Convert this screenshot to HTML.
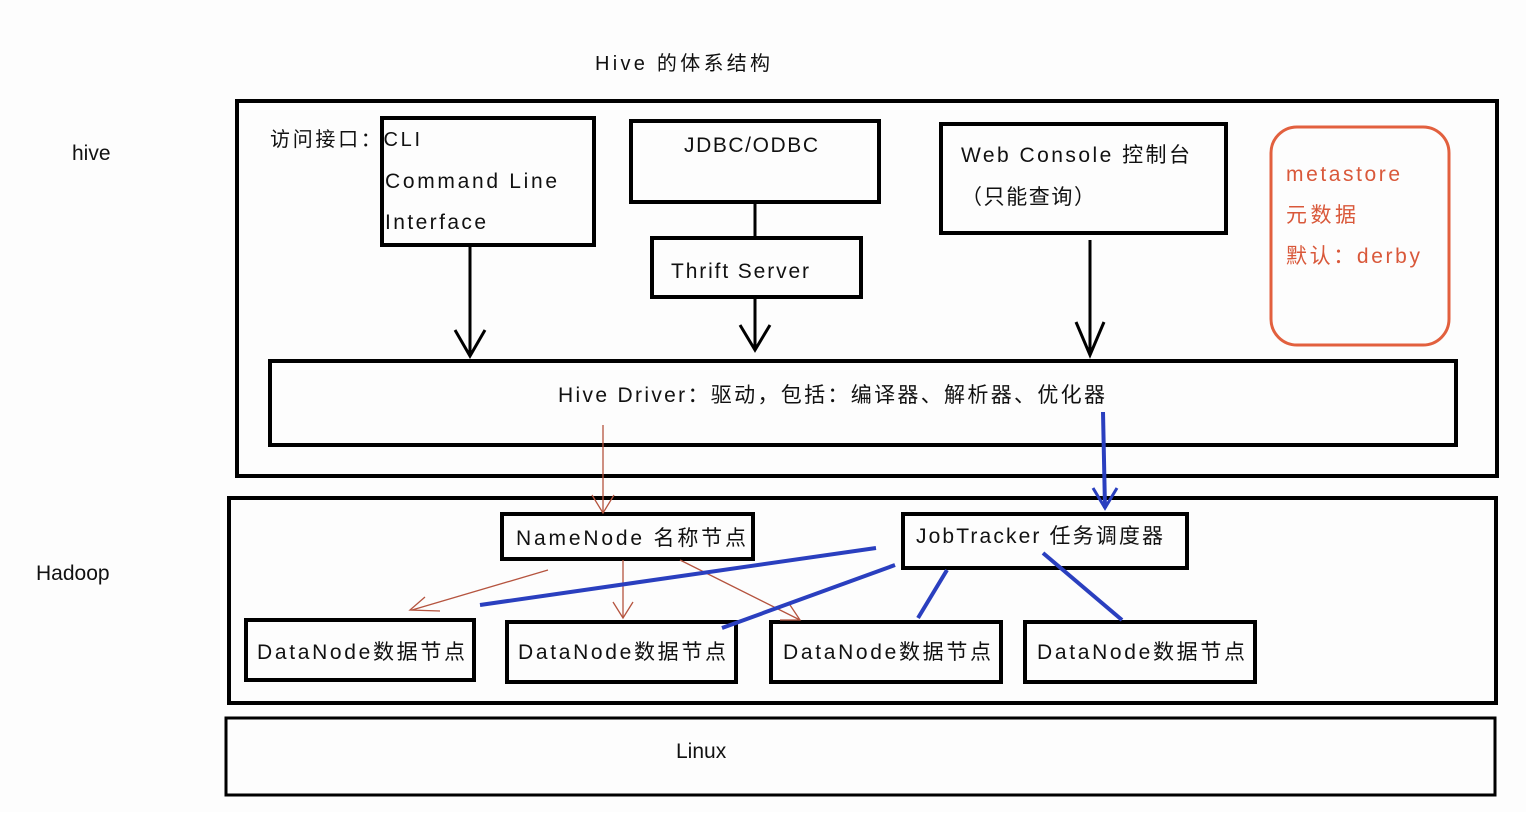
<!DOCTYPE html>
<html><head><meta charset="utf-8"><style>
body{margin:0;background:#fff;}
svg text{font-family:"Liberation Sans","Noto Sans CJK SC",sans-serif;fill:#111;}
</style></head><body>
<svg width="1526" height="812" viewBox="0 0 1526 812" xmlns="http://www.w3.org/2000/svg">
<rect width="1526" height="812" fill="#fdfdfd"/>
<g fill="none" stroke="#000" stroke-width="4">
<rect x="237" y="101" width="1260" height="375"/>
<rect x="382" y="118" width="212" height="127"/>
<rect x="631" y="121" width="248" height="81"/>
<rect x="652" y="238" width="209" height="59"/>
<rect x="941" y="124" width="285" height="109"/>
<rect x="270" y="361" width="1186" height="84"/>
<rect x="229" y="498" width="1267" height="205"/>
<rect x="502" y="514" width="251" height="45"/>
<rect x="903" y="514" width="284" height="54"/>
<rect x="246" y="620" width="228" height="60"/>
<rect x="507" y="622" width="229" height="60"/>
<rect x="771" y="622" width="230" height="60"/>
<rect x="1025" y="622" width="230" height="60"/>
<rect x="226" y="718" width="1269" height="77" stroke-width="3"/>
<line x1="470" y1="245" x2="470" y2="356" stroke-width="3"/>
<polyline points="455,330 470,356 485,330" stroke-width="3"/>
<line x1="755" y1="202" x2="755" y2="238" stroke-width="3"/>
<line x1="755" y1="297" x2="755" y2="350" stroke-width="3"/>
<polyline points="740,325 755,350 770,325" stroke-width="3"/>
<line x1="1090" y1="240" x2="1090" y2="355" stroke-width="3"/>
<polyline points="1076,322 1090,355 1104,322" stroke-width="3"/>
</g>
<rect x="1271" y="127" width="178" height="218" rx="26" fill="none" stroke="#e2603e" stroke-width="3"/>
<g stroke="#b5543f" stroke-width="1.3" fill="none">
<line x1="603" y1="425" x2="603" y2="513"/><polyline points="592,495 603,513 614,495"/>
<line x1="548" y1="570" x2="412" y2="610"/><polyline points="425,597 410,610 440,611"/>
<line x1="623" y1="560" x2="623" y2="618"/><polyline points="613,602 623,618 633,602"/>
<line x1="680" y1="560" x2="800" y2="620"/><polyline points="780,620 800,620 790,605"/>
</g>
<g stroke="#2a3fbf" stroke-width="4" fill="none">
<line x1="1103" y1="412" x2="1105" y2="508"/><polyline points="1093,488 1105,508 1117,488" stroke-width="3"/>
<line x1="876" y1="548" x2="480" y2="605"/>
<line x1="895" y1="565" x2="722" y2="628"/>
<line x1="947" y1="570" x2="918" y2="618"/>
<line x1="1043" y1="553" x2="1122" y2="620"/>
</g>
<text x="595" y="70" font-size="20" textLength="175">Hive 的体系结构</text>
<text x="72" y="160" font-size="21">hive</text>
<text x="36" y="580" font-size="21">Hadoop</text>
<text x="270" y="146" font-size="20" fill="#333" textLength="150">访问接口：CLI</text>
<text x="385" y="188" font-size="21" textLength="172">Command Line</text>
<text x="385" y="229" font-size="21" textLength="101">Interface</text>
<text x="684" y="152" font-size="21" textLength="134">JDBC/ODBC</text>
<text x="671" y="278" font-size="21" textLength="138">Thrift Server</text>
<text x="961" y="162" font-size="21" textLength="229">Web Console 控制台</text>
<text x="961" y="204" font-size="21" textLength="134">（只能查询）</text>
<text x="1286" y="181" font-size="21" textLength="114" style="fill:#d9583a">metastore</text>
<text x="1286" y="222" font-size="21" textLength="70" style="fill:#d9583a">元数据</text>
<text x="1286" y="263" font-size="21" textLength="134" style="fill:#d9583a">默认：derby</text>
<text x="558" y="402" font-size="21" textLength="547">Hive Driver：驱动，包括：编译器、解析器、优化器</text>
<text x="516" y="545" font-size="21" textLength="230">NameNode 名称节点</text>
<text x="916" y="543" font-size="21" textLength="247">JobTracker 任务调度器</text>
<text x="257" y="659" font-size="21" textLength="208">DataNode数据节点</text>
<text x="518" y="659" font-size="21" textLength="208">DataNode数据节点</text>
<text x="783" y="659" font-size="21" textLength="208">DataNode数据节点</text>
<text x="1037" y="659" font-size="21" textLength="208">DataNode数据节点</text>
<text x="676" y="758" font-size="21">Linux</text>
</svg>
</body></html>
